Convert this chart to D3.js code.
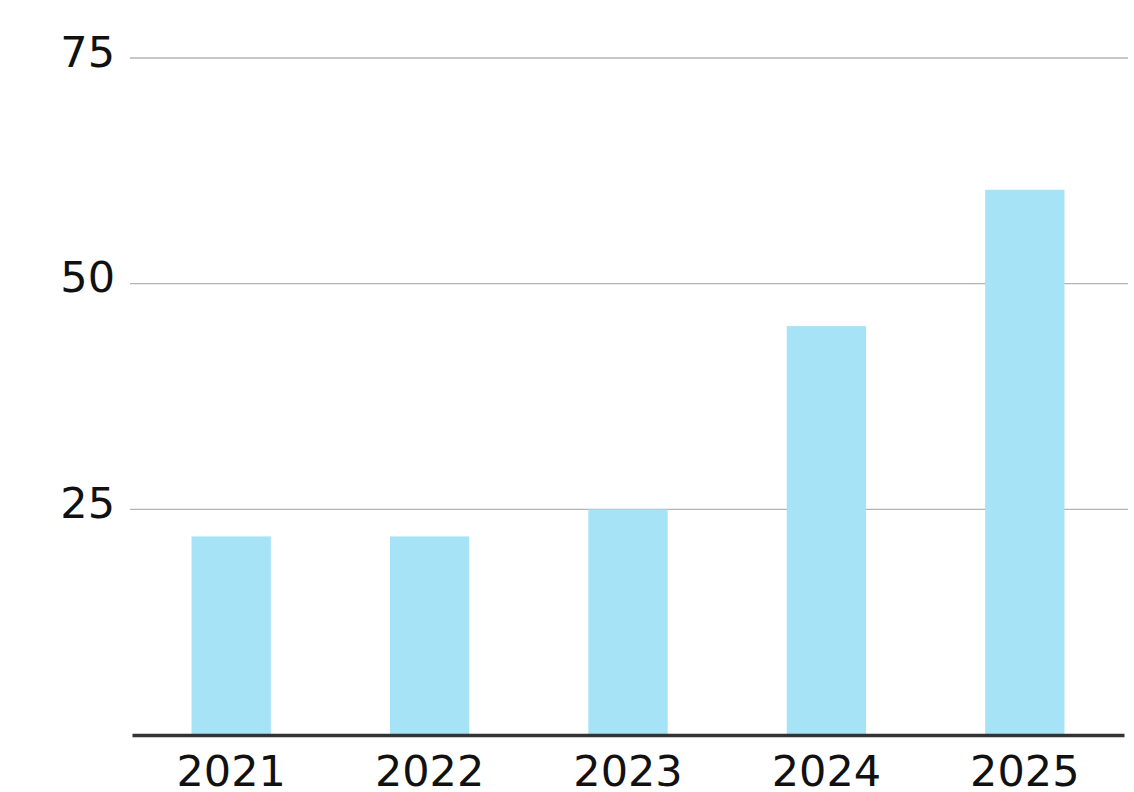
<!DOCTYPE html>
<html lang="en">
<head>
  <meta charset="UTF-8">
  <title>Bar Chart</title>
  <style>
    body { margin: 0; background: #fff; }
    svg text { font-family: "DejaVu Sans", Verdana, sans-serif; font-size: 43px; fill: #111; }
  </style>
</head>
<body>
<div id="chart"></div>
<script src="https://cdn.jsdelivr.net/npm/d3@7"></script>
<script>
  const YEARS = ['2021', '2022', '2023', '2024', '2025'];
  const VALUES = [22, 22, 25, 45.3, 60.4];
  const Y_TICKS = [25, 50, 75];

  const width = 1134, height = 792;
  const margin = {left: 132, right: 1124, top: 58, bottom: 735};

  const svg = d3.select("#chart")
    .append("svg")
    .attr("width", width)
    .attr("height", height);

  // scales
  const x = d3.scaleBand()
    .domain(YEARS)
    .range([margin.left, margin.right])
    .paddingInner(0.6)
    .paddingOuter(0.3);

  const y = d3.scaleLinear()
    .domain([0, 75])
    .range([margin.bottom, margin.top]);

  // gridlines
  svg.append("g")
    .selectAll("line")
    .data(Y_TICKS)
    .enter()
    .append("line")
    .attr("x1", 130)
    .attr("x2", 1128)
    .attr("y1", d => y(d))
    .attr("y2", d => y(d))
    .attr("stroke", "#b4b4b4")
    .attr("stroke-width", 1.3);

  // y labels
  svg.append("g")
    .selectAll("text")
    .data(Y_TICKS)
    .enter()
    .append("text")
    .attr("x", 115)
    .attr("y", d => y(d) - 3)
    .attr("text-anchor", "end")
    .attr("dominant-baseline", "middle")
    .text(d => d);

  // bars
  svg.append("g")
    .selectAll("rect")
    .data(VALUES)
    .enter()
    .append("rect")
    .attr("x", (d, i) => x(YEARS[i]))
    .attr("y", d => y(d))
    .attr("width", x.bandwidth())
    .attr("height", d => margin.bottom - y(d))
    .attr("fill", "#a6e3f7");

  // x axis
  const xAxis = svg.append("g")
    .attr("transform", "translate(0," + margin.bottom + ")")
    .call(d3.axisBottom(x).tickSize(0).tickPadding(20));
  xAxis.select(".domain")
    .attr("stroke", "#333")
    .attr("stroke-width", 3.5);
  xAxis.selectAll("text")
    .attr("font-family", null)
    .attr("font-size", null)
    .attr("fill", null)
    .attr("dy", "0.71em");
  xAxis.attr("font-family", null).attr("font-size", null);
</script>
</body>
</html>
